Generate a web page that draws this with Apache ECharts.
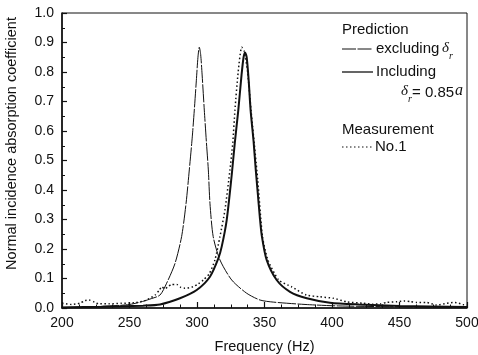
<!DOCTYPE html>
<html>
<head>
<meta charset="utf-8">
<script src="https://cdn.jsdelivr.net/npm/echarts@6/dist/echarts.min.js"></script>
<style>
    html, body { margin: 0; padding: 0; background: #fff; }
    #main { width: 478px; height: 355px; }
</style>
</head>
<body>
<div id="main"></div>
<script>
// Prediction, excluding delta_r (peak ~302 Hz)
var freqExcl = [200, 220, 240, 250, 258, 265, 272.6, 277.5, 283.7, 288.6, 291.9, 294.3, 296.5, 298, 299.5, 300.7, 301.7, 302.7, 303.8, 305.4, 307, 308.4, 309.6, 312, 317, 325.7, 336.8, 346.7, 356.5, 380, 405, 450, 500]
var valExcl = [0.002, 0.004, 0.008, 0.012, 0.02, 0.03, 0.044, 0.084, 0.151, 0.242, 0.355, 0.468, 0.58, 0.671, 0.77, 0.85, 0.884, 0.86, 0.79, 0.671, 0.56, 0.468, 0.355, 0.242, 0.163, 0.095, 0.05, 0.027, 0.02, 0.012, 0.007, 0.004, 0.002]

// Prediction, including delta_r = 0.85a (peak ~335 Hz)
var freqIncl = [200, 230, 260, 272.6, 287.4, 299.8, 309.6, 315.8, 318.3, 322, 325.7, 328, 330.6, 333, 334.5, 335.6, 336.8, 338.3, 339.7, 342, 343.5, 345, 346.5, 348, 351.6, 359, 368.9, 381.3, 398.5, 420, 450, 500]
var valIncl = [0.002, 0.004, 0.008, 0.012, 0.033, 0.061, 0.106, 0.168, 0.208, 0.298, 0.45, 0.56, 0.671, 0.79, 0.85, 0.866, 0.85, 0.77, 0.671, 0.56, 0.47, 0.39, 0.31, 0.245, 0.163, 0.095, 0.055, 0.033, 0.018, 0.012, 0.007, 0.003]

// Measurement No.1
var freqMeas = [200, 207, 213, 217, 220, 224, 227, 235, 244, 254, 262, 269, 272, 274, 276, 278, 281, 285, 288, 291, 297, 301, 304.7, 309, 313.3, 317, 320.7, 324.4, 326.5, 328.1, 330.5, 333.1, 335, 337.5, 340, 345, 348.5, 352.5, 360.5, 370, 381, 391, 401, 411, 423, 430, 436, 440.5, 448, 454, 458, 462.7, 470, 477.5, 485, 491, 497, 500]
var valMeas = [0.016, 0.012, 0.016, 0.025, 0.027, 0.02, 0.014, 0.014, 0.016, 0.018, 0.026, 0.044, 0.06, 0.072, 0.065, 0.07, 0.08, 0.08, 0.07, 0.067, 0.072, 0.082, 0.095, 0.115, 0.163, 0.242, 0.332, 0.468, 0.56, 0.671, 0.8, 0.884, 0.87, 0.8, 0.671, 0.434, 0.242, 0.163, 0.095, 0.072, 0.044, 0.038, 0.033, 0.021, 0.016, 0.013, 0.014, 0.019, 0.021, 0.024, 0.022, 0.019, 0.019, 0.01, 0.016, 0.019, 0.012, 0.01]

function pairs(xs, ys) {
    var out = []
    for (var i = 0; i < xs.length; i++) {
        out.push([xs[i], ys[i]])
    }
    return out
}

var ink = '#111'
var sans = '"Liberation Sans", Arial, sans-serif'
var serif = '"Liberation Serif", "DejaVu Serif", serif'

var myChart = echarts.init(document.getElementById('main'), null, { renderer: 'canvas' })

myChart.setOption({
    animation: false,
    backgroundColor: '#fff',
    grid: {
        left: 62, right: 11, top: 13, bottom: 47,
        outerBoundsMode: 'none',
        containLabel: false,
        show: true, borderColor: ink, borderWidth: 1
    },
    xAxis: {
        type: 'value',
        min: 200, max: 500, interval: 50,
        name: 'Frequency (Hz)',
        nameLocation: 'middle',
        nameGap: 31,
        nameTextStyle: { fontFamily: sans, fontSize: 14.5, color: ink },
        axisLine: { lineStyle: { color: ink, width: 1.6 } },
        axisTick: { inside: true, length: 6, lineStyle: { color: ink, width: 1.2 } },
        minorTick: { show: true, splitNumber: 4, length: 3.5, lineStyle: { color: ink, width: 1 } },
        axisLabel: { fontFamily: sans, fontSize: 14, color: ink, margin: 8 },
        splitLine: { show: false }
    },
    yAxis: {
        type: 'value',
        min: 0, max: 1, interval: 0.1,
        name: 'Normal incidence absorption coefficient',
        nameLocation: 'middle',
        nameGap: 43,
        // title sits a bit above the axis middle in the original
        nameTextStyle: { fontFamily: sans, fontSize: 14.5, color: ink, padding: [0, 0, 0, 34] },
        axisLine: { show: true, lineStyle: { color: ink, width: 1.6 } },
        axisTick: { inside: true, length: 5, lineStyle: { color: ink, width: 1.2 } },
        minorTick: { show: true, splitNumber: 2, length: 3, lineStyle: { color: ink, width: 1 } },
        axisLabel: {
            fontFamily: sans, fontSize: 14, color: ink, margin: 8,
            formatter: function (v) { return v.toFixed(1) }
        },
        splitLine: { show: false }
    },
    series: [{
        name: 'excluding',
        type: 'line',
        symbol: 'none',
        smooth: 0.25,
        data: pairs(freqExcl, valExcl),
        lineStyle: { color: ink, width: 1, type: [18, 1.5] }
    }, {
        name: 'including',
        type: 'line',
        symbol: 'none',
        smooth: 0.25,
        data: pairs(freqIncl, valIncl),
        lineStyle: { color: ink, width: 2 }
    }, {
        name: 'No.1',
        type: 'line',
        symbol: 'none',
        smooth: 0.2,
        data: pairs(freqMeas, valMeas),
        lineStyle: { color: ink, width: 1.5, type: [1.5, 2.5] }
    }],
    // legend block drawn by hand, like the printed figure
    graphic: [
        { type: 'text', left: 342, top: 22, style: { text: 'Prediction', font: '15px ' + sans, fill: ink } },
        { type: 'line', shape: { x1: 342, y1: 49, x2: 373, y2: 49 }, style: { stroke: ink, lineWidth: 1, lineDash: [14, 1.5] } },
        { type: 'text', left: 376, top: 41, style: { text: 'excluding', font: '15px ' + sans, fill: ink } },
        { type: 'text', left: 442, top: 41, style: { text: 'δ', font: 'italic 15px ' + serif, fill: ink } },
        { type: 'text', left: 449, top: 51, style: { text: 'r', font: 'italic 10px ' + serif, fill: ink } },
        { type: 'line', shape: { x1: 342, y1: 72, x2: 373, y2: 72 }, style: { stroke: ink, lineWidth: 1.3 } },
        { type: 'text', left: 376, top: 64, style: { text: 'Including', font: '15px ' + sans, fill: ink } },
        { type: 'text', left: 401, top: 84, style: { text: 'δ', font: 'italic 15px ' + serif, fill: ink } },
        { type: 'text', left: 408, top: 94, style: { text: 'r', font: 'italic 10px ' + serif, fill: ink } },
        { type: 'text', left: 412, top: 85, style: { text: '= 0.85', font: '15px ' + sans, fill: ink } },
        { type: 'text', left: 455, top: 83, style: { text: 'a', font: 'italic 16px ' + serif, fill: ink } },
        { type: 'text', left: 342, top: 122, style: { text: 'Measurement', font: '15px ' + sans, fill: ink } },
        { type: 'line', shape: { x1: 342, y1: 147, x2: 373, y2: 147 }, style: { stroke: ink, lineWidth: 1.2, lineDash: [1.5, 2.5] } },
        { type: 'text', left: 375, top: 139, style: { text: 'No.1', font: '15px ' + sans, fill: ink } }
    ]
})
</script>
</body>
</html>
